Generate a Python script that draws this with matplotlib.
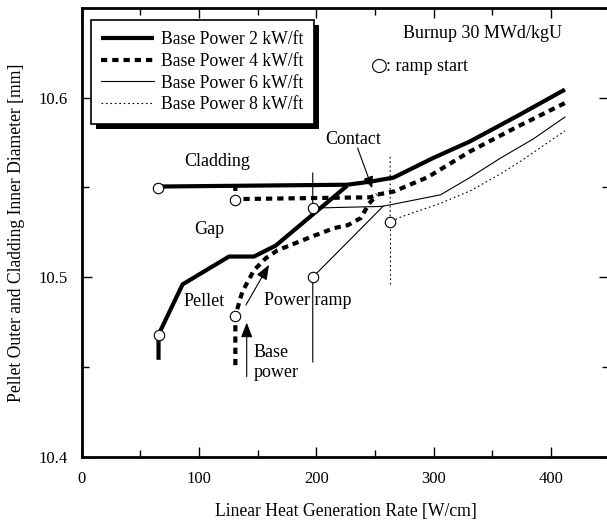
import matplotlib
matplotlib.use('Agg')
import matplotlib.pyplot as plt
import matplotlib.patheffects as pe
from matplotlib.ticker import MultipleLocator, FormatStrFormatter

plt.rcParams['font.family'] = ['Liberation Serif', 'DejaVu Serif']
plt.rcParams['font.size'] = 12

# Data (W/cm, mm)
# Base Power 2 kW/ft
p2_x = [65.5, 65.5, 86, 125.6, 146.9, 165.4, 226.4]
p2_y = [10.454, 10.468, 10.496, 10.5115, 10.5115, 10.5176, 10.551]
c2_x = [65, 226.4, 246, 266, 300, 331, 372, 412]
c2_y = [10.5505, 10.5515, 10.5532, 10.5555, 10.5665, 10.5756, 10.590, 10.6045]

# Base Power 4 kW/ft
p4_x = [131, 131, 137, 147, 157, 167, 195, 215, 227, 238, 245, 252]
p4_y = [10.451, 10.4786, 10.492, 10.504, 10.5106, 10.515, 10.5223, 10.5273,
        10.529, 10.533, 10.541, 10.546]
c4_x = [131, 131, 246, 252, 266, 295, 331, 372, 412]
c4_y = [10.5515, 10.5435, 10.5445, 10.546, 10.5477, 10.5557, 10.570, 10.584, 10.597]

# Base Power 6 kW/ft
p6_x = [197, 197, 257]
p6_y = [10.4528, 10.500, 10.5395]
c6_x = [197, 197, 255, 263, 306, 331, 357, 385, 412]
c6_y = [10.558, 10.5385, 10.5394, 10.5403, 10.5459, 10.5555, 10.5663, 10.577, 10.5892]

# Base Power 8 kW/ft
p8_x = [263, 263]
p8_y = [10.496, 10.5307]
c8_x = [263, 263, 272, 306, 331, 357, 374, 412]
c8_y = [10.567, 10.5307, 10.5335, 10.5412, 10.548, 10.5575, 10.5645, 10.5815]

# ramp start points
ramp_x = [65, 65.5, 131, 131, 197, 197, 263]
ramp_y = [10.5496, 10.468, 10.5431, 10.4786, 10.5385, 10.500, 10.5307]

fig = plt.figure(figsize=(6.07, 5.25), dpi=100)
ax = fig.add_axes([0.1346, 0.130, 0.8695, 0.855])

s2 = dict(color='k', lw=3.0, solid_capstyle='butt')
s4 = dict(color='k', lw=3.0, dashes=(1.5, 1.2))
s6 = dict(color='k', lw=0.8)
s8 = dict(color='k', lw=0.8, dashes=(1.5, 2.5))

ax.plot(c2_x, c2_y, label='Base Power 2 kW/ft', **s2)
ax.plot(p2_x, p2_y, **s2)
ax.plot(c4_x, c4_y, label='Base Power 4 kW/ft', **s4)
ax.plot(p4_x, p4_y, **s4)
ax.plot(c6_x, c6_y, label='Base Power 6 kW/ft', **s6)
ax.plot(p6_x, p6_y, **s6)
ax.plot(c8_x, c8_y, label='Base Power 8 kW/ft', **s8)
ax.plot(p8_x, p8_y, **s8)

ax.plot(ramp_x, ramp_y, 'o', ms=7.5, mfc='white', mec='k', mew=0.8, zorder=5)

# annotations
fs = 13
ax.text(115.7, 10.5644, 'Cladding', ha='center', va='center', fontsize=fs)
ax.text(108.6, 10.5264, 'Gap', ha='center', va='center', fontsize=fs)
ax.text(104.3, 10.4864, 'Pellet', ha='center', va='center', fontsize=fs)
ax.text(155.4, 10.4873, 'Power ramp', ha='left', va='center', fontsize=fs)
ax.text(146.9, 10.4527, 'Base\npower', ha='left', va='center', linespacing=1.25,
        fontsize=fs)
ax.text(231.8, 10.5765, 'Contact', ha='center', va='center', fontsize=fs)
ax.text(342, 10.636, 'Burnup 30 MWd/kgU', ha='center', va='center', fontsize=fs)
ax.text(253.5, 10.6178, '\u25cb', ha='center', va='center', fontsize=14,
        family=['DejaVu Sans'])
ax.text(259.8, 10.6174, ': ramp start', ha='left', va='center', fontsize=fs)

ax.annotate('', xy=(247.7, 10.5496), xytext=(235.2, 10.572),
            arrowprops=dict(arrowstyle='-|>,head_length=0.7,head_width=0.3',
                            color='k', lw=0.8, mutation_scale=10,
                            shrinkA=0, shrinkB=0))
ax.annotate('', xy=(159.7, 10.5069), xytext=(140, 10.4845),
            arrowprops=dict(arrowstyle='-|>,head_length=0.9,head_width=0.35',
                            color='k', lw=0.8, mutation_scale=10,
                            shrinkA=0, shrinkB=0))
ax.annotate('', xy=(140.7, 10.4747), xytext=(140.7, 10.4446),
            arrowprops=dict(arrowstyle='-|>,head_length=0.9,head_width=0.35',
                            color='k', lw=0.8, mutation_scale=10,
                            shrinkA=0, shrinkB=0))

ax.set_xlim(0, 450)
ax.set_ylim(10.4, 10.65)
ax.xaxis.set_major_locator(MultipleLocator(100))
ax.xaxis.set_minor_locator(MultipleLocator(50))
ax.yaxis.set_major_locator(MultipleLocator(0.1))
ax.yaxis.set_minor_locator(MultipleLocator(0.05))
ax.yaxis.set_major_formatter(FormatStrFormatter('%.1f'))
ax.tick_params(which='both', direction='in', top=True, right=True, width=1, pad=10)
ax.tick_params(which='major', length=7)
ax.tick_params(which='minor', length=5)
for sp in ax.spines.values():
    sp.set_linewidth(2.0)

ax.set_xlabel('Linear Heat Generation Rate [W/cm]', labelpad=12, fontsize=12.7)
ax.set_ylabel('Pellet Outer and Cladding Inner Diameter [mm]', labelpad=10,
              fontsize=12.7)

leg = ax.legend(loc='upper left', bbox_to_anchor=(0.017, 0.972), borderaxespad=0,
                fancybox=False, edgecolor='k', framealpha=1, handlelength=3.0,
                handletextpad=0.4, labelspacing=0.27, borderpad=0.6,
                fontsize=12.7)
leg.get_frame().set_linewidth(1.2)
leg.get_frame().set_path_effects([
    pe.SimplePatchShadow(offset=(3.5, -3.5), shadow_rgbFace='k', alpha=1),
    pe.Normal()])

fig.savefig('out.png', dpi=100)
